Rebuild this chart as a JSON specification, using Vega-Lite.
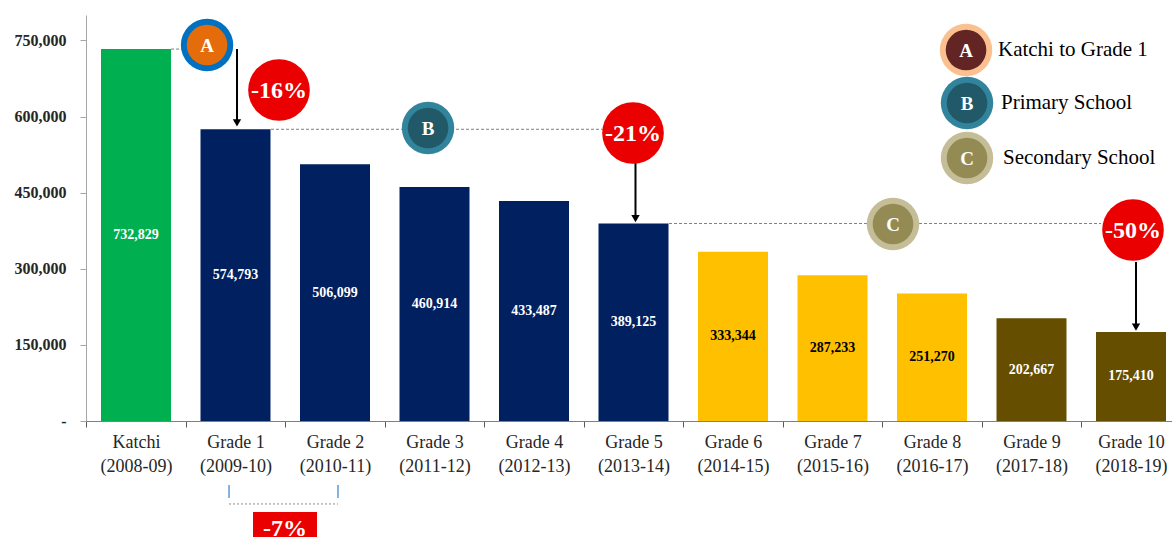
{
  "$schema": "https://vega.github.io/schema/vega-lite/v6.json",
  "width": 1086,
  "height": 406,
  "autosize": "none",
  "padding": {"left": 86, "top": 15, "right": 0, "bottom": 116},
  "background": "white",
  "config": {"view": {"stroke": null}, "font": "Liberation Serif"},
  "datasets": {
    "bars": [
      {"x": 0, "grade": "Katchi", "y": 732829, "grp": "K"},
      {"x": 1, "grade": "Grade 1", "y": 574793, "grp": "P"},
      {"x": 2, "grade": "Grade 2", "y": 506099, "grp": "P"},
      {"x": 3, "grade": "Grade 3", "y": 460914, "grp": "P"},
      {"x": 4, "grade": "Grade 4", "y": 433487, "grp": "P"},
      {"x": 5, "grade": "Grade 5", "y": 389125, "grp": "P"},
      {"x": 6, "grade": "Grade 6", "y": 333344, "grp": "M"},
      {"x": 7, "grade": "Grade 7", "y": 287233, "grp": "M"},
      {"x": 8, "grade": "Grade 8", "y": 251270, "grp": "M"},
      {"x": 9, "grade": "Grade 9", "y": 202667, "grp": "S"},
      {"x": 10, "grade": "Grade 10", "y": 175410, "grp": "S"}
    ],
    "dashes": [
      {"x": 0.352, "x2": 0.492, "y": 732829},
      {"x": 1.357, "x2": 4.693, "y": 574793},
      {"x": 5.357, "x2": 9.698, "y": 389125}
    ],
    "arrows": [
      {"x": 1.015, "y": 733000, "y2": 593100, "h": 587200},
      {"x": 5.02, "y": 508400, "y2": 404000, "h": 399000},
      {"x": 10.05, "y": 313300, "y2": 189200, "h": 185200}
    ],
    "circles": [
      {"k": "A", "x": 0.714, "y": 740900, "t": "A"},
      {"k": "B", "x": 2.935, "y": 577300, "t": "B"},
      {"k": "C", "x": 7.608, "y": 388200, "t": "C"},
      {"k": "LA", "x": 8.342, "y": 731000, "t": "A"},
      {"k": "LB", "x": 8.352, "y": 626600, "t": "B"},
      {"k": "LC", "x": 8.352, "y": 518200, "t": "C"}
    ],
    "reds": [
      {"x": 1.437, "y": 652200, "t": "-16%"},
      {"x": 4.995, "y": 567500, "t": "-21%"},
      {"x": 10.02, "y": 376300, "t": "-50%"}
    ],
    "legend": [
      {"x": 8.663, "y": 731000, "t": "Katchi to Grade 1"},
      {"x": 8.693, "y": 626600, "t": "Primary School"},
      {"x": 8.714, "y": 518200, "t": "Secondary School"}
    ],
    "bticks": [
      {"x": 0.935, "y": -126100, "y2": -151700},
      {"x": 2.03, "y": -126100, "y2": -151700}
    ],
    "bline": [{"x": 0.935, "x2": 2.03, "y": -163500}],
    "box": [{"x": 1.176, "x2": 1.819, "y": -179300, "y2": -260000, "t": "-7%", "tx": 1.497, "ty": -226600}]
  },
  "layer": [
    {
      "data": {"name": "bars"},
      "mark": {"type": "bar", "size": 70, "orient": "vertical"},
      "encoding": {
        "x": {
          "field": "x", "type": "quantitative",
          "scale": {"domain": [-0.5025, 10.412], "nice": false, "zero": false, "padding": 0},
          "axis": {
            "title": null,
            "values": [-0.5, 0.5, 1.5, 2.5, 3.5, 4.5, 5.5, 6.5, 7.5, 8.5, 9.5],
            "labelExpr": "[['Katchi','(2008-09)'],['Grade 1','(2009-10)'],['Grade 2','(2010-11)'],['Grade 3','(2011-12)'],['Grade 4','(2012-13)'],['Grade 5','(2013-14)'],['Grade 6','(2014-15)'],['Grade 7','(2015-16)'],['Grade 8','(2016-17)'],['Grade 9','(2017-18)'],['Grade 10','(2018-19)']][round(datum.value + 0.5)]",
            "labelOffset": 49.75,
            "labelFlush": false,
            "labelOverlap": false,
            "labelBound": false,
            "labelAlign": "center",
            "labelBaseline": "top",
            "labelFont": "Liberation Serif",
            "labelFontSize": 18,
            "labelLineHeight": 24,
            "labelColor": "#262626",
            "labelPadding": 6,
            "tickSize": 6,
            "tickColor": "#595959",
            "domainColor": "#7F7F7F",
            "grid": false
          }
        },
        "y": {
          "field": "y", "type": "quantitative", "stack": null,
          "scale": {"domain": [0, 800000], "nice": false},
          "axis": {
            "title": null,
            "values": [0, 150000, 300000, 450000, 600000, 750000],
            "labelExpr": "datum.value == 0 ? '-' : format(datum.value, ',')",
            "labelFont": "Liberation Serif",
            "labelFontSize": 16,
            "labelFontWeight": "bold",
            "labelColor": "#262626",
            "labelPadding": 14,
            "tickSize": 6,
            "tickColor": "#A6A6A6",
            "domainColor": "#A6A6A6",
            "grid": false
          }
        },
        "color": {
          "field": "grp", "type": "nominal", "legend": null,
          "scale": {"domain": ["K", "P", "M", "S"], "range": ["#00B050", "#002060", "#FFC000", "#654E00"]}
        }
      }
    },
    {
      "data": {"name": "bars"},
      "transform": [{"calculate": "datum.y / 2", "as": "ymid"}],
      "mark": {"type": "text", "font": "Liberation Serif", "fontSize": 14, "fontWeight": "bold", "align": "center", "baseline": "middle"},
      "encoding": {
        "x": {"field": "x", "type": "quantitative"},
        "y": {"field": "ymid", "type": "quantitative"},
        "text": {"field": "y", "type": "quantitative", "format": ","},
        "color": {
          "field": "grp", "type": "nominal", "legend": null,
          "scale": {"domain": ["K", "P", "M", "S"], "range": ["#FFFFFF", "#FFFFFF", "#000000", "#FFFFFF"]}
        }
      }
    },
    {
      "data": {"name": "dashes"},
      "mark": {"type": "rule", "color": "#7F7F7F", "strokeWidth": 1, "strokeDash": [3, 2]},
      "encoding": {
        "x": {"field": "x", "type": "quantitative"},
        "x2": {"field": "x2"},
        "y": {"field": "y", "type": "quantitative"}
      }
    },
    {
      "data": {"name": "arrows"},
      "mark": {"type": "rule", "color": "#000000", "strokeWidth": 2},
      "encoding": {
        "x": {"field": "x", "type": "quantitative"},
        "y": {"field": "y", "type": "quantitative"},
        "y2": {"field": "y2"}
      }
    },
    {
      "data": {"name": "arrows"},
      "mark": {"type": "point", "shape": "triangle-down", "filled": true, "color": "#000000", "size": 70, "opacity": 1},
      "encoding": {
        "x": {"field": "x", "type": "quantitative"},
        "y": {"field": "h", "type": "quantitative"}
      }
    },
    {
      "data": {"name": "circles"},
      "mark": {"type": "point", "shape": "circle", "filled": true, "size": 2750, "opacity": 1},
      "encoding": {
        "x": {"field": "x", "type": "quantitative"},
        "y": {"field": "y", "type": "quantitative"},
        "color": {
          "field": "k", "type": "nominal", "legend": null,
          "scale": {"domain": ["A", "B", "C", "LA", "LB", "LC"], "range": ["#0070C0", "#31849B", "#C4BD97", "#FAC090", "#31849B", "#C4BD97"]}
        }
      }
    },
    {
      "data": {"name": "circles"},
      "mark": {"type": "point", "shape": "circle", "filled": true, "size": 1650, "opacity": 1},
      "encoding": {
        "x": {"field": "x", "type": "quantitative"},
        "y": {"field": "y", "type": "quantitative"},
        "color": {
          "field": "k", "type": "nominal", "legend": null,
          "scale": {"domain": ["A", "B", "C", "LA", "LB", "LC"], "range": ["#E46C0A", "#215968", "#948A54", "#632523", "#215968", "#948A54"]}
        }
      }
    },
    {
      "data": {"name": "circles"},
      "mark": {"type": "text", "font": "Liberation Serif", "fontSize": 19, "fontWeight": "bold", "color": "#FFFFFF", "align": "center", "baseline": "middle", "dy": 1},
      "encoding": {
        "x": {"field": "x", "type": "quantitative"},
        "y": {"field": "y", "type": "quantitative"},
        "text": {"field": "t"}
      }
    },
    {
      "data": {"name": "reds"},
      "mark": {"type": "point", "shape": "circle", "filled": true, "size": 3800, "color": "#EA0000", "opacity": 1},
      "encoding": {
        "x": {"field": "x", "type": "quantitative"},
        "y": {"field": "y", "type": "quantitative"}
      }
    },
    {
      "data": {"name": "reds"},
      "mark": {"type": "text", "font": "Liberation Serif", "fontSize": 24, "fontWeight": "bold", "color": "#FFFFFF", "align": "center", "baseline": "middle", "dy": 1},
      "encoding": {
        "x": {"field": "x", "type": "quantitative"},
        "y": {"field": "y", "type": "quantitative"},
        "text": {"field": "t"}
      }
    },
    {
      "data": {"name": "legend"},
      "mark": {"type": "text", "font": "Liberation Serif", "fontSize": 21, "color": "#000000", "align": "left", "baseline": "middle"},
      "encoding": {
        "x": {"field": "x", "type": "quantitative"},
        "y": {"field": "y", "type": "quantitative"},
        "text": {"field": "t"}
      }
    },
    {
      "data": {"name": "bticks"},
      "mark": {"type": "rule", "color": "#5B9BD5", "strokeWidth": 1.5},
      "encoding": {
        "x": {"field": "x", "type": "quantitative"},
        "y": {"field": "y", "type": "quantitative"},
        "y2": {"field": "y2"}
      }
    },
    {
      "data": {"name": "bline"},
      "mark": {"type": "rule", "color": "#8C8C8C", "strokeWidth": 1, "strokeDash": [2, 2]},
      "encoding": {
        "x": {"field": "x", "type": "quantitative"},
        "x2": {"field": "x2"},
        "y": {"field": "y", "type": "quantitative"}
      }
    },
    {
      "data": {"name": "box"},
      "mark": {"type": "rect", "color": "#EA0000", "opacity": 1},
      "encoding": {
        "x": {"field": "x", "type": "quantitative"},
        "x2": {"field": "x2"},
        "y": {"field": "y", "type": "quantitative"},
        "y2": {"field": "y2"}
      }
    },
    {
      "data": {"name": "box"},
      "mark": {"type": "text", "font": "Liberation Serif", "fontSize": 24, "fontWeight": "bold", "color": "#FFFFFF", "align": "center", "baseline": "alphabetic"},
      "encoding": {
        "x": {"field": "tx", "type": "quantitative"},
        "y": {"field": "ty", "type": "quantitative"},
        "text": {"field": "t"}
      }
    }
  ],
  "resolve": {"scale": {"color": "independent"}}
}
